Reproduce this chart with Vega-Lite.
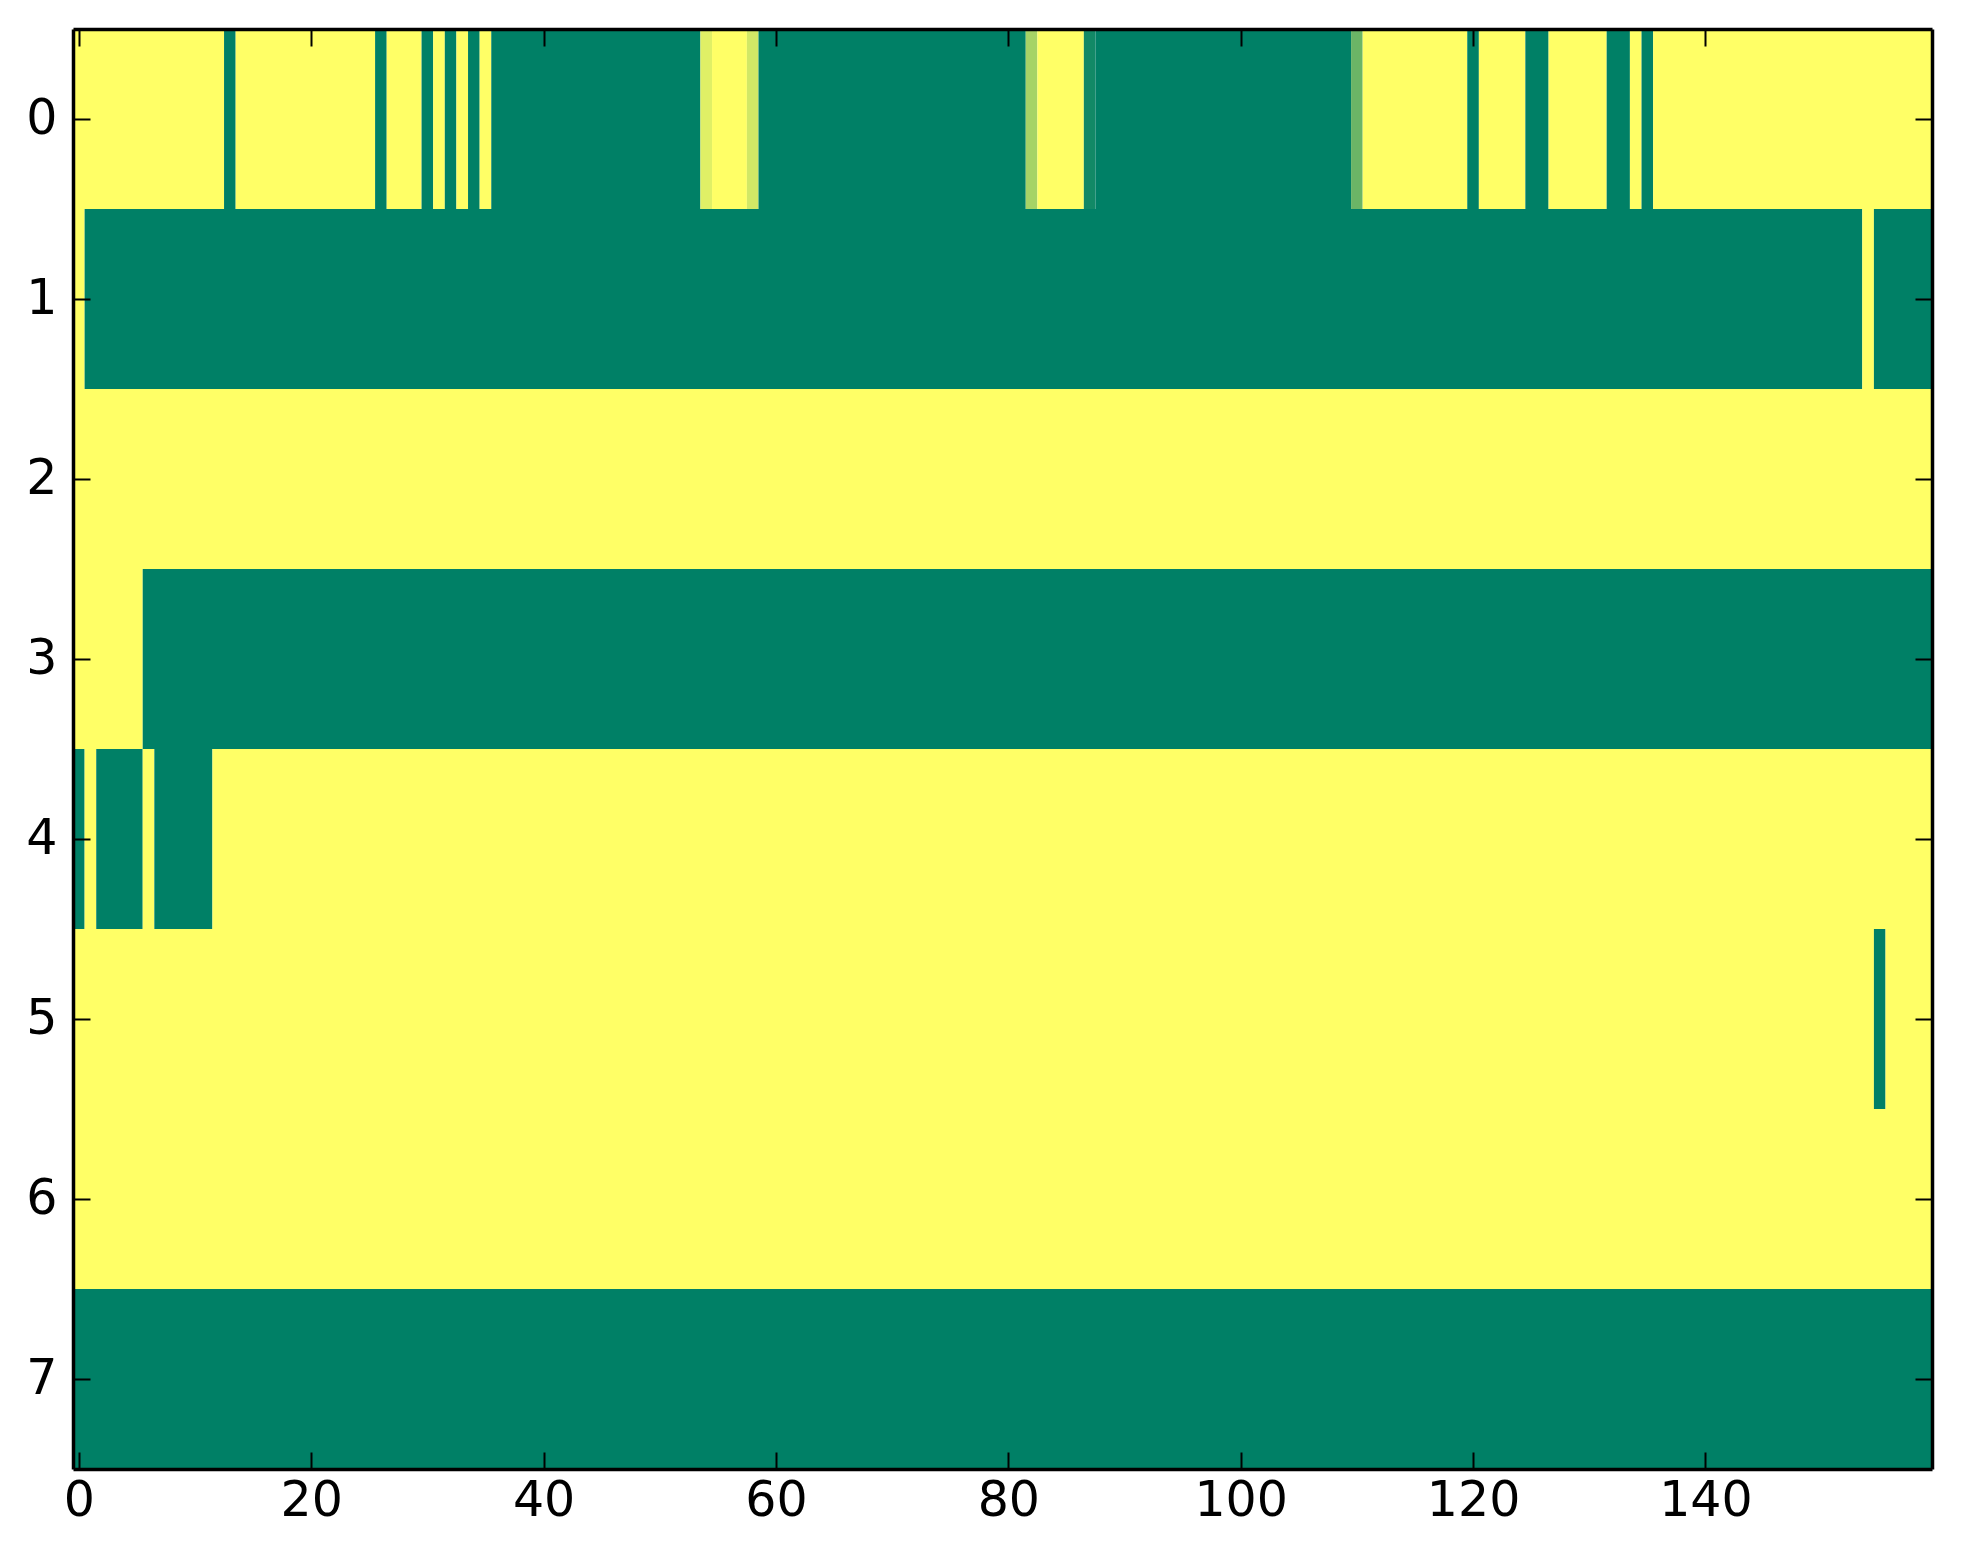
{
  "$schema": "https://vega.github.io/schema/vega-lite/v6.json",
  "background": "white",
  "autosize": "none",
  "padding": {"left": 73, "top": 29, "right": 31, "bottom": 95},
  "width": 1859,
  "height": 1440,
  "data": {
    "values": [
      {"row": 0, "x0": -0.5, "x1": 12.5, "v": 1},
      {"row": 0, "x0": 12.5, "x1": 13.5, "v": 0},
      {"row": 0, "x0": 13.5, "x1": 25.5, "v": 1},
      {"row": 0, "x0": 25.5, "x1": 26.5, "v": 0},
      {"row": 0, "x0": 26.5, "x1": 29.5, "v": 1},
      {"row": 0, "x0": 29.5, "x1": 30.5, "v": 0},
      {"row": 0, "x0": 30.5, "x1": 31.5, "v": 1},
      {"row": 0, "x0": 31.5, "x1": 32.5, "v": 0},
      {"row": 0, "x0": 32.5, "x1": 33.5, "v": 1},
      {"row": 0, "x0": 33.5, "x1": 34.5, "v": 0},
      {"row": 0, "x0": 34.5, "x1": 35.5, "v": 1},
      {"row": 0, "x0": 35.5, "x1": 53.5, "v": 0},
      {"row": 0, "x0": 53.5, "x1": 54.5, "v": 0.88},
      {"row": 0, "x0": 54.5, "x1": 57.5, "v": 1},
      {"row": 0, "x0": 57.5, "x1": 58.5, "v": 0.82},
      {"row": 0, "x0": 58.5, "x1": 81.5, "v": 0},
      {"row": 0, "x0": 81.5, "x1": 82.5, "v": 0.65},
      {"row": 0, "x0": 82.5, "x1": 86.5, "v": 1},
      {"row": 0, "x0": 86.5, "x1": 87.5, "v": 0.07},
      {"row": 0, "x0": 87.5, "x1": 109.5, "v": 0},
      {"row": 0, "x0": 109.5, "x1": 110.5, "v": 0.42},
      {"row": 0, "x0": 110.5, "x1": 119.5, "v": 1},
      {"row": 0, "x0": 119.5, "x1": 120.5, "v": 0},
      {"row": 0, "x0": 120.5, "x1": 124.5, "v": 1},
      {"row": 0, "x0": 124.5, "x1": 126.5, "v": 0},
      {"row": 0, "x0": 126.5, "x1": 131.5, "v": 1},
      {"row": 0, "x0": 131.5, "x1": 133.5, "v": 0},
      {"row": 0, "x0": 133.5, "x1": 134.5, "v": 1},
      {"row": 0, "x0": 134.5, "x1": 135.5, "v": 0},
      {"row": 0, "x0": 135.5, "x1": 159.5, "v": 1},
      {"row": 1, "x0": -0.5, "x1": 0.5, "v": 1},
      {"row": 1, "x0": 0.5, "x1": 153.5, "v": 0},
      {"row": 1, "x0": 153.5, "x1": 154.5, "v": 1},
      {"row": 1, "x0": 154.5, "x1": 159.5, "v": 0},
      {"row": 2, "x0": -0.5, "x1": 159.5, "v": 1},
      {"row": 3, "x0": -0.5, "x1": 5.5, "v": 1},
      {"row": 3, "x0": 5.5, "x1": 159.5, "v": 0},
      {"row": 4, "x0": -0.5, "x1": 0.5, "v": 0},
      {"row": 4, "x0": 0.5, "x1": 1.5, "v": 1},
      {"row": 4, "x0": 1.5, "x1": 5.5, "v": 0},
      {"row": 4, "x0": 5.5, "x1": 6.5, "v": 1},
      {"row": 4, "x0": 6.5, "x1": 11.5, "v": 0},
      {"row": 4, "x0": 11.5, "x1": 159.5, "v": 1},
      {"row": 5, "x0": -0.5, "x1": 154.5, "v": 1},
      {"row": 5, "x0": 154.5, "x1": 155.5, "v": 0},
      {"row": 5, "x0": 155.5, "x1": 159.5, "v": 1},
      {"row": 6, "x0": -0.5, "x1": 159.5, "v": 1},
      {"row": 7, "x0": -0.5, "x1": 159.5, "v": 0}
    ]
  },
  "layer": [
    {
      "mark": {"type": "rect", "strokeWidth": 0},
      "encoding": {
        "x": {
          "field": "x0",
          "type": "quantitative",
          "scale": {"domain": [-0.5, 159.5], "nice": false, "zero": false},
          "axis": {
            "orient": "bottom",
            "title": null,
            "values": [0, 20, 40, 60, 80, 100, 120, 140],
            "grid": false,
            "labelPadding": 24,
            "zindex": 1
          }
        },
        "x2": {"field": "x1"},
        "y": {
          "field": "row",
          "type": "ordinal",
          "scale": {"paddingInner": 0, "paddingOuter": 0},
          "axis": {"orient": "left", "title": null, "labelAngle": 0, "labelPadding": 33, "zindex": 1}
        },
        "color": {
          "field": "v",
          "type": "quantitative",
          "scale": {"domain": [0, 1], "range": ["#008066", "#ffff66"], "interpolate": "rgb"},
          "legend": null
        }
      }
    },
    {
      "mark": {"type": "rect", "opacity": 0},
      "encoding": {
        "x": {
          "field": "x0",
          "type": "quantitative",
          "scale": {"domain": [-0.5, 159.5], "nice": false, "zero": false},
          "axis": {
            "orient": "top",
            "title": null,
            "values": [0, 20, 40, 60, 80, 100, 120, 140],
            "labels": false,
            "grid": false,
            "zindex": 1
          }
        },
        "x2": {"field": "x1"},
        "y": {
          "field": "row",
          "type": "ordinal",
          "scale": {"paddingInner": 0, "paddingOuter": 0},
          "axis": {"orient": "right", "title": null, "labels": false, "zindex": 1}
        }
      }
    }
  ],
  "resolve": {"axis": {"x": "independent", "y": "independent"}},
  "config": {
    "view": {"stroke": null},
    "font": "DejaVu Sans",
    "axis": {
      "domainColor": "black",
      "domainWidth": 3.5,
      "tickColor": "black",
      "tickWidth": 2,
      "tickSize": -17,
      "labelFont": "DejaVu Sans",
      "labelFontSize": 49,
      "labelColor": "black",
      "labelFlush": false,
      "labelOverlap": false
    }
  }
}
